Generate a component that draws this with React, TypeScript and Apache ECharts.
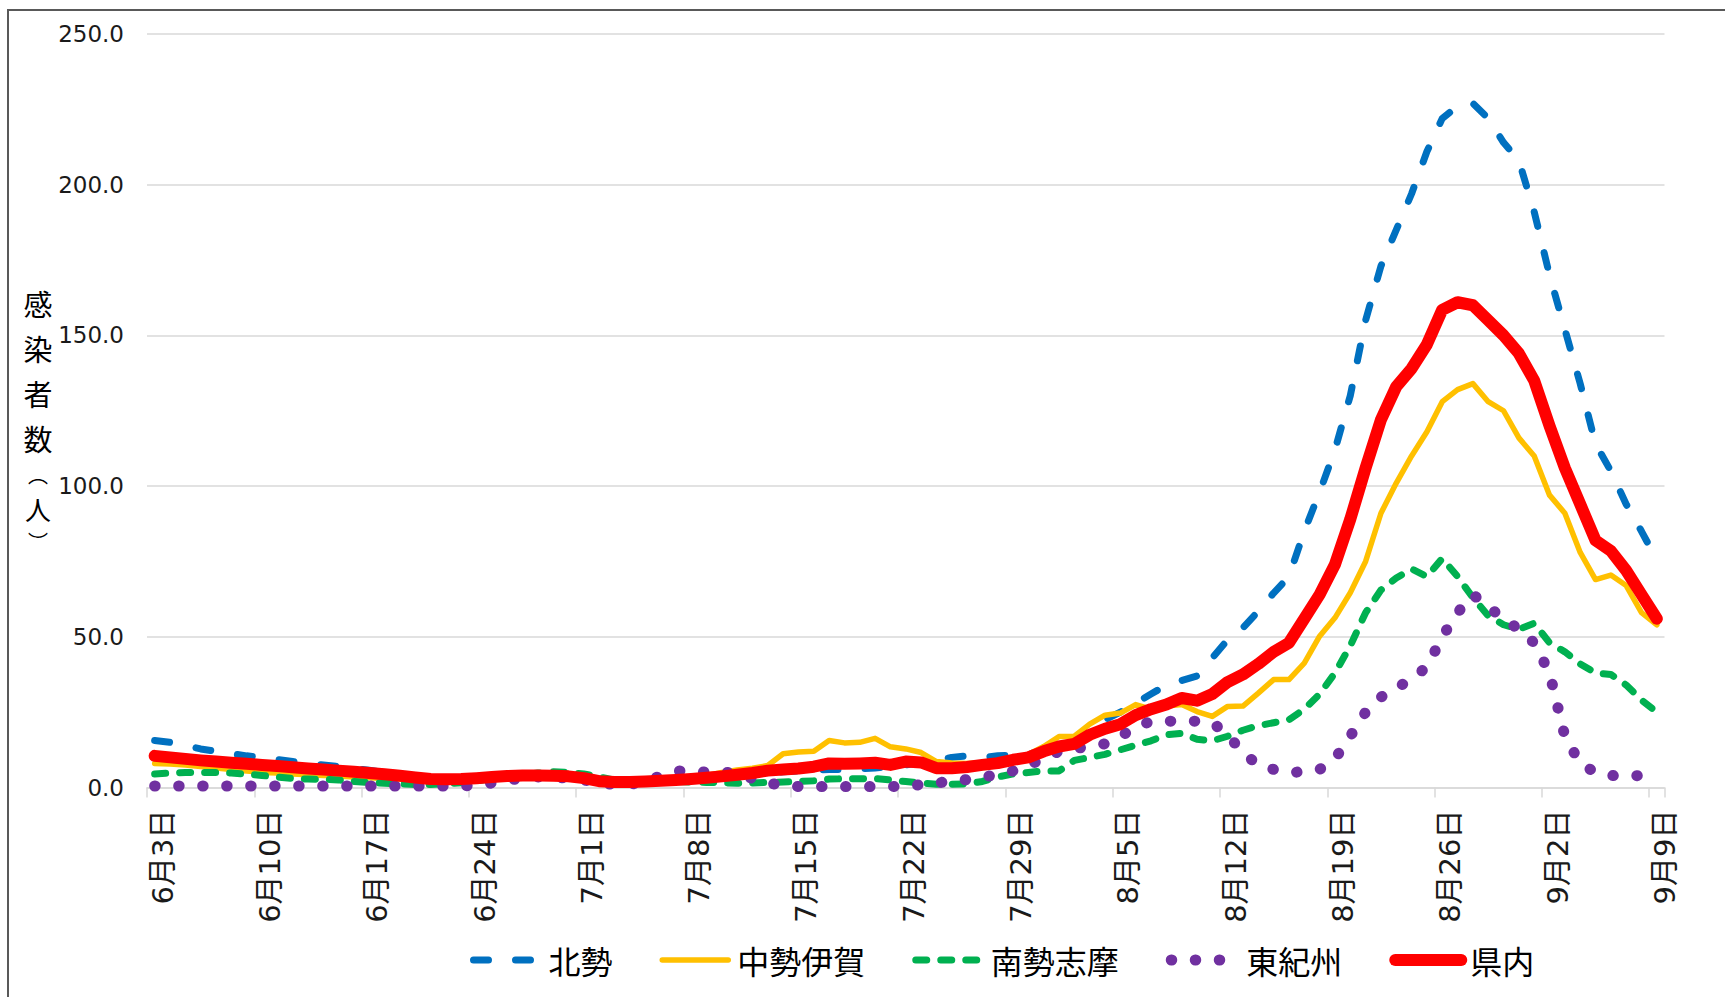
import React, { useEffect, useRef } from "react";
import * as echarts from "echarts";

// Category labels: 6/3 .. 9/9 (daily)
const monthSpans: number[][] = [
  [6, 3, 30],
  [7, 1, 31],
  [8, 1, 31],
  [9, 1, 9],
];
const dates: string[] = [];
for (const [m, a, b] of monthSpans) {
  for (let d = a; d <= b; d++) dates.push(`${m}月${d}日`);
}

const seriesNames = ["北勢", "中勢伊賀", "南勢志摩", "東紀州", "県内"];

// 北勢
const hokusei = [
  15.6, 15.0, 14.0, 12.8, 12.0, 11.2, 10.5, 10.0, 9.3, 8.6,
  8.0, 7.5, 7.0, 6.3, 5.7, 5.0, 4.4, 3.8, 3.2, 2.9,
  2.8, 2.9, 3.2, 3.5, 3.8, 3.9, 3.8, 3.6, 3.2, 2.2,
  1.8, 1.8, 2.0, 2.2, 2.4, 2.7, 3.0, 3.4, 4.0, 4.5,
  5.0, 5.2, 5.5, 5.8, 6.0, 6.0, 6.2, 6.5, 6.8, 7.5,
  8.3, 8.8, 10.0, 10.5, 10.0, 10.5, 10.8, 11.0, 12.5, 14.5,
  16.5, 19.5, 22.5, 25.0, 28.0, 31.0, 34.0, 35.5, 37.0, 43.0,
  49.0, 53.0, 58.5, 64.5, 70.0, 85.0, 98.0, 112.0, 130.0, 155.0,
  173.0, 185.0, 197.0, 211.0, 222.0, 226.0, 227.0, 222.0, 214.0, 208.0,
  191.0, 170.0, 152.0, 134.0, 114.0, 105.0, 94.0, 85.0, 75.5,
];

// 中勢伊賀
const chuseiIga = [
  8.0, 7.8, 7.5, 7.0, 6.5, 6.0, 5.5, 5.0, 4.8, 4.5,
  4.2, 4.0, 3.8, 3.5, 3.2, 3.0, 2.8, 2.5, 2.2, 2.2,
  2.5, 3.0, 3.4, 3.8, 4.0, 4.0, 3.8, 3.5, 3.0, 2.0,
  1.8, 1.8, 2.0, 2.3, 2.8, 3.3, 4.0, 5.0, 5.8, 6.4,
  7.3, 11.2, 11.8, 12.0, 15.6, 14.8, 15.0, 16.3, 13.5, 12.8,
  11.6, 8.6, 8.1, 8.0, 8.3, 8.8, 9.5, 11.0, 13.6, 16.9,
  17.0, 21.0, 24.0, 24.7, 27.5, 26.0, 27.0, 27.5, 25.2, 23.6,
  26.9, 27.0, 31.3, 35.8, 35.8, 41.3, 50.2, 56.3, 64.6, 75.0,
  91.0, 101.0, 110.0, 118.0, 128.0, 132.0, 134.0, 128.0, 125.0, 116.0,
  110.0, 97.0, 91.0, 78.0, 69.0, 70.5, 67.0, 58.0, 54.0,
];

// 南勢志摩
const nanseiShima = [
  4.5, 4.8, 5.0, 5.0, 5.0, 4.8, 4.4, 4.0, 3.5, 3.0,
  2.8, 2.7, 2.5, 2.0, 1.6, 1.4, 1.2, 1.0, 1.0, 1.2,
  1.6, 2.2, 3.0, 3.6, 4.1, 4.8, 5.2, 5.0, 4.5, 3.5,
  2.5, 2.0, 2.0, 2.0, 2.0, 1.8, 1.7, 1.6, 1.4, 1.5,
  1.7, 1.8, 2.0, 2.2, 2.8, 2.9, 2.9, 3.0, 2.5, 2.0,
  1.5, 1.1, 1.1, 1.2, 2.0, 3.5, 4.5, 5.0, 5.5, 5.5,
  9.0, 10.0, 11.0, 12.5, 14.0, 15.5, 17.5, 18.0, 16.0, 15.5,
  17.0, 19.0, 20.5, 21.5, 22.5, 26.0, 31.0, 38.0, 47.0, 58.0,
  65.5, 69.5, 72.5, 70.0, 76.0, 70.0, 63.0, 57.0, 54.0, 52.5,
  54.5, 48.0, 45.0, 41.0, 38.0, 37.5, 34.0, 29.0, 25.0,
];

// 東紀州
const higashiKishu = [
  0.5, 0.5, 0.5, 0.5, 0.5, 0.5, 0.5, 0.5, 0.5, 0.5,
  0.5, 0.5, 0.5, 0.5, 0.5, 0.5, 0.5, 0.5, 0.5, 0.5,
  0.5, 0.7, 1.5, 2.5, 3.0, 3.5, 3.5, 3.0, 2.5, 1.5,
  1.0, 1.0, 2.0, 3.8, 5.5, 5.5, 5.1, 5.1, 4.8, 3.0,
  1.5, 0.7, 0.3, 0.3, 0.3, 0.3, 0.3, 0.3, 0.3, 0.5,
  0.9, 1.5, 2.1, 2.6, 3.4, 4.3, 5.5, 7.5, 9.5, 12.0,
  13.0, 13.5, 14.5, 17.0, 20.0, 22.0, 22.0, 22.0, 22.0, 21.5,
  17.5, 11.5, 7.5, 6.0, 5.0, 5.2, 6.0, 9.5, 17.0, 25.0,
  30.0, 33.0, 36.0, 40.0, 50.0, 58.0, 64.0, 60.0, 56.0, 52.5,
  48.0, 38.0, 17.0, 8.0, 5.0, 4.0, 3.7, 4.0, 4.5,
];

// 県内
const kennai = [
  10.5, 10.0, 9.5, 9.0, 8.6, 8.2, 7.9, 7.5, 7.1, 6.7,
  6.3, 6.0, 5.6, 5.2, 4.8, 4.4, 3.9, 3.3, 2.8, 2.7,
  2.8, 3.1, 3.5, 3.8, 4.0, 4.0, 3.9, 3.7, 3.1, 2.1,
  1.8, 1.8, 2.0, 2.2, 2.5, 2.8, 3.2, 3.7, 4.2, 4.8,
  5.6, 6.0, 6.3, 6.9, 8.0, 7.9, 8.0, 8.2, 7.5, 8.6,
  8.3, 6.4, 6.4, 6.8, 7.5, 8.1, 9.2, 10.0, 12.0, 13.6,
  14.5, 17.5, 19.5, 21.0, 24.0, 26.0, 27.5, 29.7, 28.8, 31.0,
  35.0, 37.5, 41.0, 45.0, 48.0, 56.0, 64.0, 74.0, 89.0, 106.0,
  122.0, 133.0, 139.0, 147.0, 158.5, 161.0, 160.0, 155.0, 150.0, 144.0,
  135.0, 120.0, 106.0, 94.0, 82.0, 78.5, 72.0, 64.0, 56.0,
];

const yMin = 0;
const yMax = 250;
const yStep = 50;

const FONT = "'DejaVu Sans', 'Noto Sans CJK JP', sans-serif";
const CJK = "'Noto Sans CJK JP', sans-serif";

const colors = ["#0070C0", "#FFC000", "#00B050", "#7030A0", "#FF0000"];
const widths = [7, 5.5, 7, 11, 12];
const dashes: any[] = [[15, 27], "solid", [11, 14], [0.5, 23.5], "solid"];
const valuesList = [hokusei, chuseiIga, nanseiShima, higashiKishu, kennai];

export default function App() {
  const ref = useRef<HTMLDivElement>(null);
  useEffect(() => {
    if (!ref.current) return;
    const chart = echarts.init(ref.current, undefined, { renderer: "svg" });
    const series = seriesNames.map((name, k) => ({
      name,
      type: "line",
      data: valuesList[k],
      symbol: "none",
      showSymbol: false,
      lineStyle: {
        color: colors[k],
        width: widths[k],
        type: dashes[k],
        cap: "round",
        join: "round",
      },
      itemStyle: { color: colors[k] },
      z: 2 + k,
    }));
    chart.setOption({
      animation: false,
      backgroundColor: "#ffffff",
      grid: { left: 147, right: 60.5, top: 34, bottom: 209.5, containLabel: false },
      xAxis: {
        type: "category",
        data: dates,
        boundaryGap: true,
        axisLine: { show: true, lineStyle: { color: "#d9d9d9", width: 1.5 } },
        axisTick: { show: true, interval: 6, length: 10, lineStyle: { color: "#d9d9d9", width: 1.5 } },
        axisLabel: {
          interval: 6,
          rotate: 90,
          margin: 22,
          fontSize: 29,
          color: "#1a1a1a",
          fontFamily: FONT,
          verticalAlign: "top",
          lineHeight: 16,
        },
        splitLine: { show: false },
      },
      yAxis: {
        type: "value",
        min: yMin,
        max: yMax,
        interval: yStep,
        axisLine: { show: false },
        axisTick: { show: false },
        axisLabel: {
          formatter: (v: number) => v.toFixed(1),
          fontSize: 23,
          margin: 23,
          color: "#1a1a1a",
          fontFamily: FONT,
        },
        splitLine: { show: true, lineStyle: { color: "#d9d9d9", width: 1.5 } },
      },
      legend: {
        left: 465,
        top: 939,
        orient: "horizontal",
        itemWidth: 66,
        itemHeight: 14,
        itemGap: 47,
        itemStyle: { opacity: 0, borderWidth: 0 },
        textStyle: { fontSize: 32, color: "#000", fontFamily: CJK, padding: [0, 0, 0, 4] },
        data: seriesNames.map((name, k) => ({
          name,
          lineStyle: { width: widths[k], type: dashes[k], cap: "round", color: colors[k] },
          itemStyle: { opacity: 0 },
        })),
      },
      graphic: [
        {
          type: "rect",
          silent: true,
          z: -10,
          shape: { x: 8, y: 10, width: 1800, height: 1200 },
          style: { fill: "none", stroke: "#595959", lineWidth: 2 },
        },
        {
          type: "text",
          silent: true,
          x: 38,
          y: 280,
          style: {
            text: "{a|感}\n{a|染}\n{a|者}\n{a|数}\n{p|︵}\n{b|人}\n{p|︶}",
            align: "center",
            verticalAlign: "top",
            fill: "#000",
            fontSize: 29,
            fontFamily: CJK,
            rich: {
              a: { fontSize: 29, lineHeight: 45, fontFamily: CJK, fill: "#000" },
              b: { fontSize: 26, lineHeight: 38, fontFamily: CJK, fill: "#000" },
              p: { fontSize: 20, lineHeight: 29, fontFamily: CJK, fill: "#000" },
            },
          },
        },
      ],
      series,
    });
    return () => chart.dispose();
  }, []);
  return (
    <div
      ref={ref}
      style={{ position: "absolute", left: 0, top: 0, width: 1725, height: 997, background: "#fff" }}
    />
  );
}
